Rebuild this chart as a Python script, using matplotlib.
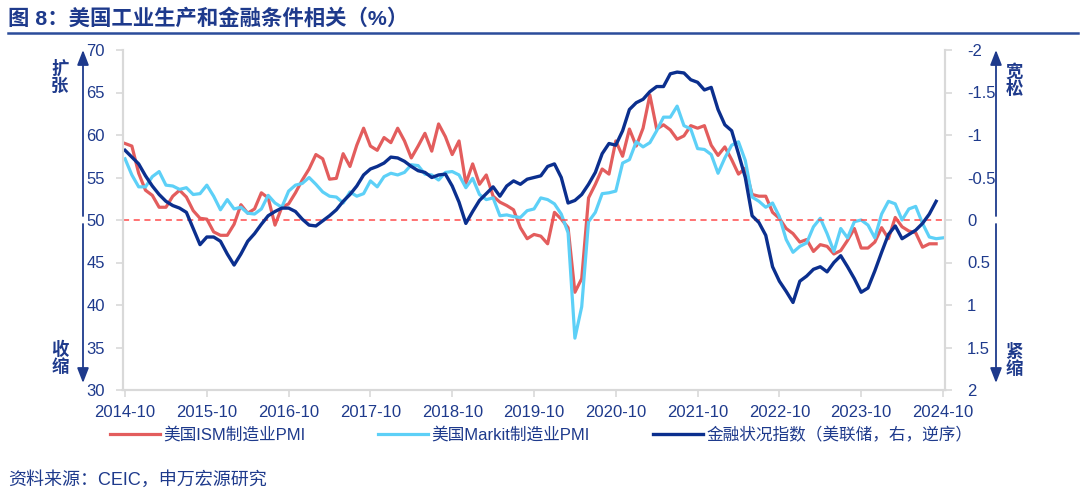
import numpy as np
import matplotlib.pyplot as plt
from matplotlib.lines import Line2D

plt.rcParams["font.family"] = ["Liberation Sans", "Noto Sans CJK SC"]
plt.rcParams["axes.unicode_minus"] = False

NAVY = "#1E3A8C"
GRID = "#D9D9D9"

# monthly, 2014-10 onward
ism = [59.0, 58.7, 55.5,
       53.5, 52.9, 51.5, 51.5, 52.8, 53.5, 52.7, 51.1, 50.2, 50.1, 48.6, 48.2,
       48.2, 49.5, 51.8, 50.8, 51.3, 53.2, 52.6, 49.4, 51.5, 51.9, 53.2, 54.7,
       56.0, 57.7, 57.2, 54.8, 54.9, 57.8, 56.3, 58.8, 60.8, 58.7, 58.2, 59.7,
       59.1, 60.8, 59.3, 57.3, 58.7, 60.2, 58.1, 61.3, 59.8, 57.7, 59.3, 54.3,
       56.6, 54.2, 55.3, 52.8, 52.1, 51.7, 51.2, 49.1, 47.8, 48.3, 48.1, 47.2,
       50.9, 50.1, 49.1, 41.5, 43.1, 52.6, 54.2, 56.0, 55.4, 59.3, 57.5, 60.7,
       58.7, 60.8, 64.7, 60.7, 61.2, 60.6, 59.5, 59.9, 61.1, 60.8, 61.1, 58.8,
       57.6, 58.6, 57.1, 55.4, 56.1, 53.0, 52.8, 52.8, 50.9, 50.2, 49.0, 48.4,
       47.4, 47.7, 46.3, 47.1, 46.9, 46.0, 46.4, 47.6, 49.0, 46.7, 46.7, 47.4,
       49.1, 47.8, 50.3, 49.2, 48.7, 48.5, 46.8, 47.2, 47.2]

markit = [57.2, 55.3, 53.9,
          53.9, 55.1, 55.7, 54.1, 54.0, 53.6, 53.8, 53.0, 53.1, 54.1, 52.8, 51.2,
          52.4, 51.3, 51.5, 50.8, 50.7, 51.3, 52.9, 52.0, 51.5, 53.4, 54.1, 54.3,
          55.0, 54.2, 53.3, 52.8, 52.7, 52.0, 53.3, 52.8, 53.1, 54.6, 53.9, 55.1,
          55.5, 55.3, 55.6, 56.5, 56.4, 55.4, 55.3, 54.7, 55.6, 55.7, 55.3, 53.8,
          54.9, 53.0, 52.4, 52.6, 50.5, 50.6, 50.4, 50.3, 51.1, 51.3, 52.6, 52.4,
          51.9, 50.7, 48.5, 36.1, 39.8, 49.8, 50.9, 53.1, 53.2, 53.4, 56.7, 57.1,
          59.2, 58.6, 59.1, 60.5, 62.1, 62.1, 63.4, 61.1, 60.7, 58.4, 58.3, 57.7,
          55.5, 57.3, 58.8, 59.2, 57.0, 52.7, 52.2, 51.5, 52.0, 50.4, 47.7, 46.2,
          46.9, 47.3, 49.2, 50.2, 48.4, 46.3, 49.0, 47.9, 49.8, 50.0, 49.4, 47.9,
          50.7, 52.2, 51.9, 50.0, 51.3, 51.6, 49.6, 48.0, 47.8, 47.9]

fci = [-0.82, -0.74, -0.66, -0.52, -0.40, -0.30, -0.22, -0.17, -0.14, -0.09,
       0.10, 0.29, 0.20, 0.20, 0.25, 0.40, 0.53, 0.40, 0.25, 0.16,
       0.05, -0.05, -0.10, -0.14, -0.14, -0.10, -0.01, 0.06, 0.07, 0.01,
       -0.05, -0.12, -0.22, -0.30, -0.40, -0.53, -0.60, -0.63, -0.67, -0.74,
       -0.73, -0.69, -0.63, -0.58, -0.56, -0.50, -0.53, -0.54, -0.40, -0.21,
       0.04, -0.10, -0.23, -0.31, -0.39, -0.28, -0.40, -0.46, -0.42, -0.48,
       -0.50, -0.52, -0.63, -0.66, -0.50, -0.20, -0.23, -0.30, -0.42, -0.56,
       -0.78, -0.90, -0.88, -1.05, -1.30, -1.38, -1.42, -1.51, -1.57, -1.57,
       -1.72, -1.74, -1.73, -1.65, -1.62, -1.53, -1.56, -1.30, -1.12, -1.05,
       -0.78, -0.50, -0.05, 0.03, 0.18, 0.55, 0.72, 0.84, 0.97, 0.72,
       0.66, 0.58, 0.55, 0.61, 0.50, 0.42, 0.55, 0.69, 0.85, 0.80,
       0.60, 0.38, 0.17, 0.07, 0.22, 0.17, 0.12, 0.04, -0.07, -0.22]

xlabels = ["2014-10", "2015-10", "2016-10", "2017-10", "2018-10", "2019-10",
           "2020-10", "2021-10", "2022-10", "2023-10", "2024-10"]
left_ticks = [30, 35, 40, 45, 50, 55, 60, 65, 70]
right_ticks = [-2, -1.5, -1, -0.5, 0, 0.5, 1, 1.5, 2]

fig = plt.figure(figsize=(10.8, 4.96), dpi=100)
ax = fig.add_axes([123 / 1080, 1 - 390 / 496, (945 - 123) / 1080, 340 / 496])
ax2 = ax.twinx()

l1, = ax.plot(np.arange(len(ism)), ism, color="#E35D5D", lw=2.3)
l2, = ax.plot(np.arange(len(markit)), markit, color="#5DD0F7", lw=2.3)
ax.axhline(50, color="#FF4B4B", lw=1.1, ls=(0, (4, 3)))
l3, = ax2.plot(np.arange(len(fci)), fci, color="#0B2F8E", lw=2.4)

ax.set_xlim(-0.3, 120.3)
ax.set_ylim(30, 70)
ax2.set_ylim(2, -2)
ax.set_yticks(left_ticks)
ax.set_yticklabels([str(t) for t in left_ticks])
ax2.set_yticks(right_ticks)
ax2.set_yticklabels([("%g" % t) for t in right_ticks])
ax.set_xticks(np.arange(0, 121, 12))
ax.set_xticklabels(xlabels)

for a in (ax, ax2):
    a.spines["top"].set_visible(False)
    for s in ("left", "right", "bottom"):
        a.spines[s].set_color(GRID)
        a.spines[s].set_linewidth(1.5)
    a.tick_params(colors=GRID, labelcolor=NAVY, labelsize=12, length=5, width=1.2)
ax.tick_params(axis="y", pad=8)
ax2.tick_params(axis="y", pad=11)
ax.tick_params(axis="x", pad=6)

# direction arrows beside the axes
arrow_kw = dict(arrowstyle="-|>,head_length=0.9,head_width=0.35", color=NAVY, lw=1.3,
                shrinkA=0, shrinkB=0)
for xa in (83 / 1080, 996 / 1080):
    fig.add_artist(plt.Annotation("", xy=(xa, 1 - 50 / 496), xytext=(xa, 1 - 216 / 496),
                                  xycoords="figure fraction", textcoords="figure fraction",
                                  arrowprops=arrow_kw))
    fig.add_artist(plt.Annotation("", xy=(xa, 1 - 383 / 496), xytext=(xa, 1 - 224 / 496),
                                  xycoords="figure fraction", textcoords="figure fraction",
                                  arrowprops=arrow_kw))

side_kw = dict(color=NAVY, fontsize=12.5, fontweight="bold", ha="center", va="center",
               linespacing=1.05)
fig.text(60 / 1080, 1 - 77 / 496, "扩\n张", **side_kw)
fig.text(60 / 1080, 1 - 358 / 496, "收\n缩", **side_kw)
fig.text(1014 / 1080, 1 - 80 / 496, "宽\n松", **side_kw)
fig.text(1014 / 1080, 1 - 360 / 496, "紧\n缩", **side_kw)

# legend: three entries placed along the bottom
entries = [(l1, "美国ISM制造业PMI", 110), (l2, "美国Markit制造业PMI", 378),
           (l3, "金融状况指数（美联储，右，逆序）", 653)]
for h, lab, xp in entries:
    leg = fig.legend([h], [lab], loc="center left", bbox_to_anchor=(xp / 1080, 1 - 435 / 496),
                     frameon=False, fontsize=12, handlelength=3.0, handletextpad=0.2,
                     borderpad=0, borderaxespad=0)
    for t in leg.get_texts():
        t.set_color(NAVY)

fig.text(8 / 1080, 1 - 18 / 496, "图 8：美国工业生产和金融条件相关（%）", color=NAVY,
         fontsize=15.4, fontweight="bold", ha="left", va="center")
fig.add_artist(Line2D([8 / 1080, 1078 / 1080], [1 - 33 / 496, 1 - 33 / 496],
                      color="#2B4C9B", lw=1.8))
fig.text(8 / 1080, 1 - 480 / 496, "资料来源：CEIC，申万宏源研究", color=NAVY,
         fontsize=13, ha="left", va="center")

fig.savefig("out.png", dpi=100)
